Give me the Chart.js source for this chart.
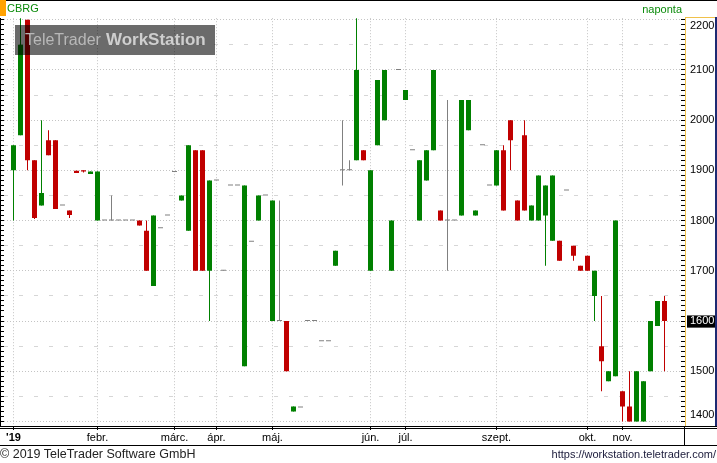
<!DOCTYPE html>
<html><head><meta charset="utf-8">
<script src="https://cdn.jsdelivr.net/npm/chart.js@4.4.1/dist/chart.umd.min.js"></script>
<style>
html,body{margin:0;padding:0;background:#fff;}
#wrap{position:relative;width:717px;height:463px;overflow:hidden;font-family:"Liberation Sans",Arial,sans-serif;}
#c{position:absolute;left:0;top:0;}
.ln{position:absolute;}
.txt{position:absolute;white-space:nowrap;line-height:1;}
#wm{position:absolute;left:15px;top:25px;width:200px;height:30px;background:rgba(0,0,0,0.58);display:flex;align-items:center;padding-left:10px;box-sizing:border-box;white-space:nowrap;}
</style></head><body>
<div id="wrap">
<canvas id="c" width="717" height="463"></canvas>
<div class="ln" style="left:0;top:0;width:717px;height:1px;background:#000"></div>
<div class="ln" style="left:0;top:0;width:6px;height:16px;background:#ffa200"></div>
<div class="txt" style="left:7px;top:3px;font-size:11px;color:#0a8a0a">CBRG</div>
<div class="txt" style="right:35px;top:4px;font-size:11px;color:#0a8a0a">naponta</div>
<div class="ln" style="left:0;top:18px;width:1px;height:409px;background:#000"></div>
<div class="ln" style="left:685px;top:17px;width:1px;height:409px;background:#f0c14b"></div>
<div class="ln" style="left:685px;top:17px;width:32px;height:1px;background:#f0c14b"></div>
<div class="ln" style="left:715px;top:17px;width:2px;height:409px;background:#1d2b73"></div>
<div class="ln" style="left:0;top:426px;width:717px;height:1px;background:#000"></div>
<div class="ln" style="left:0;top:428px;width:717px;height:1px;background:#000"></div>
<div class="ln" style="left:0;top:445px;width:717px;height:1px;background:#000"></div>
<div class="ln" style="left:684px;top:426px;width:1px;height:19px;background:#000"></div>
<div class="txt" style="left:0;top:448px;font-size:12.5px;color:#222">© 2019 TeleTrader Software GmbH</div>
<div class="txt" style="right:1px;top:449px;font-size:11px;color:#1a1a3a">https://workstation.teletrader.com/</div>
<div id="wm"><span style="font-size:16px;color:#b8b8b8">TeleTrader</span><span style="font-size:17px;font-weight:bold;color:#cfcfcf;margin-left:5px">WorkStation</span></div>
</div>
<script>
const dates = [
 "2019-01-02","2019-01-03","2019-01-04","2019-01-07","2019-01-08","2019-01-10","2019-01-11","2019-01-14","2019-01-16","2019-01-21","2019-01-24","2019-01-29",
 "2019-02-01","2019-02-04","2019-02-06","2019-02-08","2019-02-11","2019-02-13","2019-02-15","2019-02-18","2019-02-20","2019-02-22","2019-02-26",
 "2019-03-01","2019-03-05","2019-03-08","2019-03-12","2019-03-19","2019-03-26",
 "2019-04-01","2019-04-03","2019-04-05","2019-04-09","2019-04-11","2019-04-16","2019-04-23","2019-04-26",
 "2019-05-02","2019-05-03","2019-05-06","2019-05-07","2019-05-08","2019-05-10","2019-05-13","2019-05-14","2019-05-16","2019-05-17","2019-05-21","2019-05-23","2019-05-27","2019-05-30",
 "2019-06-03","2019-06-07","2019-06-13","2019-06-18","2019-06-25",
 "2019-07-01","2019-07-03","2019-07-05","2019-07-08","2019-07-10","2019-07-12","2019-07-16","2019-07-18","2019-07-22","2019-07-24","2019-07-26","2019-07-29","2019-07-31",
 "2019-09-02","2019-09-03","2019-09-05","2019-09-06","2019-09-09","2019-09-11","2019-09-12","2019-09-16","2019-09-18","2019-09-19","2019-09-23","2019-09-25","2019-09-27",
 "2019-10-01","2019-10-04","2019-10-10","2019-10-18","2019-10-28",
 "2019-11-04","2019-11-06","2019-11-11","2019-11-13","2019-11-18","2019-11-20","2019-11-22"
];
const openV = [
 1900,1970,2200,1920,1830,1960,1960,1830,1820,1899,1900,1893,
 1800,1800,1800,1800,1800,1800,1800,1780,1670,1785,1810,
 1897,1840,1780,1940,1940,1700,
 1880,1700,1870,1870,1510,1758,1800,1850,
 1600,1600,1600,1420,1428,1600,1600,1560,1560,1710,1900,1900,1920,1940,
 1700,1950,2000,1700,2100,
 2040,1940,1800,1880,1940,1820,1800,1800,1810,1980,1810,1950,1870,
 1870,1940,2000,1840,1970,1800,1800,1810,1760,1760,1860,1750,1710,
 1730,1650,1550,1480,1490,
 1460,1430,1400,1400,1500,1590,1640
];
const highV = [
 1950,2210,2200,1920,2000,1980,1960,1830,1820,1899,1900,1898,
 1898,1800,1850,1800,1800,1800,1800,1800,1810,1785,1810,
 1897,1850,1950,1940,1940,1880,
 1880,1700,1870,1870,1870,1758,1850,1850,
 1840,1840,1600,1430,1428,1600,1600,1560,1560,1740,2000,1920,2210,1940,
 1900,2080,2100,1800,2100,
 2060,1940,1920,1940,2100,1820,2040,1800,2040,2040,1820,1950,1870,
 1940,1950,2000,1840,2000,1830,1890,1870,1890,1760,1860,1750,1710,
 1730,1700,1650,1500,1800,
 1460,1500,1500,1480,1600,1640,1650
];
const lowV = [
 1800,1970,1900,1803,1830,1930,1823,1830,1805,1895,1896,1893,
 1800,1800,1800,1800,1800,1800,1790,1700,1670,1785,1810,
 1897,1840,1780,1700,1700,1600,
 1880,1700,1870,1870,1510,1758,1800,1850,
 1600,1600,1500,1420,1428,1600,1600,1560,1560,1710,1870,1900,1920,1920,
 1700,1950,2000,1700,2100,
 2040,1940,1800,1880,1940,1800,1700,1800,1810,1980,1810,1950,1870,
 1870,1820,1900,1800,1820,1800,1800,1710,1760,1720,1860,1720,1700,
 1700,1600,1460,1480,1490,
 1400,1400,1400,1400,1500,1590,1500
];
const closeV = [
 1950,2150,1920,1805,1855,1930,1823,1830,1811,1895,1898,1898,
 1898,1800,1800,1800,1800,1800,1790,1700,1810,1785,1810,
 1897,1850,1950,1700,1700,1880,
 1880,1700,1870,1870,1870,1758,1850,1850,
 1840,1600,1500,1430,1428,1600,1600,1560,1560,1740,1900,1900,2100,1920,
 1900,2080,2100,1800,2100,
 2060,1940,1920,1940,2100,1800,1800,1800,2040,2040,1820,1950,1870,
 1940,1820,1960,1800,1820,1830,1890,1870,1890,1720,1860,1730,1700,
 1700,1700,1520,1500,1800,
 1430,1400,1500,1480,1600,1640,1600
];
const monthLabels = ["'19","febr.","márc.","ápr.","máj.","jún.","júl.","aug.","szept.","okt.","nov.","dec."];
const yMin = 1391, yMax = 2203;

const UP = '#008000', DOWN = '#c00000', FLAT = '#808080';
const colorOf = i => closeV[i] > openV[i] ? UP : (closeV[i] < openV[i] ? DOWN : FLAT);

const tickLabelAt = {};
const monthStarts = [];
dates.forEach((d, i) => {
  const m = d.slice(0, 7);
  if (i === 0 || m !== dates[i - 1].slice(0, 7)) {
    monthStarts.push(i);
    tickLabelAt[i] = monthLabels[parseInt(d.slice(5, 7), 10) - 1];
  }
});
const lastClose = closeV[closeV.length - 1];
const topLbl = Math.floor(yMax / 100) * 100, botLbl = Math.ceil(yMin / 100) * 100;

const bodyData = dates.map((d, i) => ({x: i, y: [openV[i], closeV[i]]}));
const wickData = dates.map((d, i) => ({x: i, y: [lowV[i], highV[i]]}));
const FONT = "'Liberation Sans', Arial, sans-serif";

const gridColor = ctx => {
  const v = ctx.tick ? ctx.tick.value : NaN;
  if (v % 100 === 0) return '#c4c4c4';
  if (v % 50 === 0) return '#d6d6d6';
  return 'rgba(0,0,0,0)';
};
const gridDash = ctx => {
  const v = ctx.tick ? ctx.tick.value : NaN;
  if (v % 100 === 0) return [1, 2];
  if (v % 50 === 0) return [4, 11];
  return [];
};

new Chart(document.getElementById('c'), {
  type: 'bar',
  data: {
    datasets: [
      {label: 'body', data: bodyData, order: 0, grouped: false, barThickness: 5, minBarLength: 1, inflateAmount: 0,
       borderWidth: 0, backgroundColor: ctx => colorOf(ctx.dataIndex), xAxisID: 'x', yAxisID: 'y'},
      {label: 'wick', data: wickData, order: 1, grouped: false, barThickness: 1, inflateAmount: 0,
       borderWidth: 0, backgroundColor: ctx => colorOf(ctx.dataIndex), xAxisID: 'x', yAxisID: 'y'}
    ]
  },
  options: {
    responsive: false, animation: false, devicePixelRatio: 1,
    layout: {padding: {top: 18, bottom: 18, left: 0, right: 0}},
    plugins: {legend: {display: false}, tooltip: {enabled: false}},
    scales: {
      x: {
        type: 'linear', position: 'bottom', offset: false,
        min: -1.357142857, max: 95.357142857,
        afterBuildTicks: s => { s.ticks = monthStarts.map(v => ({value: v})); },
        afterFit: s => { s.height = 19; },
        ticks: {
          autoSkip: false, maxRotation: 0, padding: 1, color: '#000',
          callback: v => tickLabelAt[v] !== undefined ? tickLabelAt[v] : '',
          font: ctx => ({family: FONT, size: 11, weight: ctx.index === 0 ? 'bold' : 'normal'})
        },
        grid: {offset: false, color: '#c4c4c4', lineWidth: 1, drawTicks: true, tickLength: 4, tickColor: '#000', tickBorderDash: [], tickWidth: 1},
        border: {display: true, color: '#000', width: 1, dash: ctx => ctx.tick ? [1, 2] : []}
      },
      y: {
        type: 'linear', position: 'right', min: yMin, max: yMax,
        afterFit: s => { s.width = 36; },
        ticks: {
          stepSize: 10, autoSkip: false, includeBounds: false, padding: 5,
          font: {family: FONT, size: 11},
          color: ctx => ctx.tick && ctx.tick.value === lastClose ? '#fff' : '#000',
          showLabelBackdrop: ctx => !!ctx.tick && ctx.tick.value === lastClose,
          backdropColor: '#000',
          backdropPadding: {left: 3, right: 1, top: -1, bottom: 0},
          callback: v => {
            if (v % 100 !== 0) return '';
            if (v === topLbl) return ['', String(v)];
            if (v === botLbl) return [String(v), ''];
            return String(v);
          }
        },
        grid: {color: gridColor, lineWidth: 1, drawTicks: true, tickLength: 4, tickColor: '#000', tickBorderDash: [], tickWidth: 1},
        border: {display: false, dash: gridDash}
      },
      yL: {
        type: 'linear', position: 'left', min: yMin, max: yMax,
        afterFit: s => { s.width = 4; },
        ticks: {stepSize: 10, autoSkip: false, includeBounds: false, display: false},
        grid: {drawOnChartArea: false, drawTicks: true, tickLength: 4, tickColor: '#000', tickBorderDash: [], tickWidth: 1},
        border: {display: false}
      }
    }
  }
});
</script>
</body></html>
